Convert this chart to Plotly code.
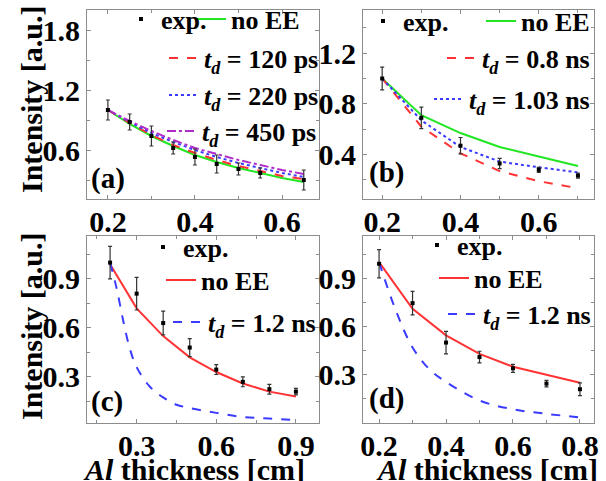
import plotly.graph_objects as go

W, H = 606, 481

# ---------------- data ----------------
# panel (a)
a_x_exp = [0.20, 0.25, 0.30, 0.35, 0.40, 0.45, 0.50, 0.55, 0.65]
a_y_exp = [1.00, 0.88, 0.74, 0.62, 0.53, 0.46, 0.41, 0.37, 0.30]
a_err = [0.10, 0.08, 0.10, 0.06, 0.08, 0.09, 0.06, 0.05, 0.10]
a_x_line = [0.20, 0.25, 0.30, 0.35, 0.40, 0.45, 0.50, 0.55, 0.60, 0.65]
a_noee = [1.00, 0.86, 0.74, 0.64, 0.55, 0.48, 0.42, 0.37, 0.32, 0.28]
a_td120 = [1.00, 0.87, 0.75, 0.65, 0.57, 0.50, 0.44, 0.39, 0.34, 0.31]
a_td220 = [1.00, 0.88, 0.77, 0.68, 0.60, 0.53, 0.47, 0.42, 0.37, 0.33]
a_td450 = [1.00, 0.89, 0.79, 0.70, 0.62, 0.56, 0.50, 0.45, 0.40, 0.36]

# panel (b)
b_x = [0.2, 0.3, 0.4, 0.5, 0.6, 0.7]
b_y_exp = [1.00, 0.69, 0.47, 0.33, 0.28, 0.235]
b_err = [0.09, 0.085, 0.065, 0.04, 0.02, 0.02]
b_noee = [1.00, 0.71, 0.57, 0.46, 0.385, 0.31]
b_td08 = [1.00, 0.62, 0.41, 0.27, 0.19, 0.135]
b_td103 = [1.00, 0.67, 0.46, 0.345, 0.30, 0.26]

# panel (c)
c_x = [0.2, 0.3, 0.4, 0.5, 0.6, 0.7, 0.8, 0.9]
c_y_exp = [1.00, 0.81, 0.63, 0.48, 0.345, 0.27, 0.225, 0.21]
c_err = [0.10, 0.10, 0.073, 0.055, 0.03, 0.03, 0.03, 0.02]
c_noee = [0.99, 0.72, 0.55, 0.42, 0.33, 0.26, 0.21, 0.18]
c_x_td = [0.2, 0.225, 0.25, 0.275, 0.3, 0.35, 0.4, 0.45, 0.5, 0.6, 0.7, 0.8, 0.9]
c_td12 = [1.0, 0.84, 0.64, 0.47, 0.36, 0.24, 0.175, 0.13, 0.11, 0.08, 0.055, 0.045, 0.035]

# panel (d)
d_x = [0.2, 0.3, 0.4, 0.5, 0.6, 0.7, 0.8]
d_y_exp = [0.99, 0.745, 0.50, 0.41, 0.34, 0.245, 0.21]
d_err = [0.088, 0.073, 0.07, 0.036, 0.025, 0.02, 0.04]
d_noee = [1.00, 0.71, 0.545, 0.43, 0.35, 0.30, 0.25]
d_x_td = [0.2, 0.25, 0.3, 0.35, 0.4, 0.5, 0.6, 0.7, 0.8]
d_td12 = [1.0, 0.70, 0.47, 0.335, 0.255, 0.14, 0.085, 0.057, 0.035]

# tick labels
a_xticks = [0.2, 0.4, 0.6]
a_yticks = [0.6, 1.2, 1.8]
b_xticks = [0.2, 0.4, 0.6]
b_yticks = [0.4, 0.8, 1.2]
c_xticks = [0.3, 0.6, 0.9]
c_yticks = [0.3, 0.6, 0.9]
d_xticks = [0.2, 0.4, 0.6, 0.8]
d_yticks = [0.3, 0.6, 0.9]

TD = "<i>t</i><sub><i>d</i></sub>"
GREEN = "#22e622"
RED = "#ff3333"
BLUE = "#3b3bff"
PURPLE = "#b02cc8"
SERIF = "Liberation Serif"


def px(x):
    return x / W


def py(y):
    return 1 - y / H


fig = go.Figure()

legend_specs = {}
leg_counter = [1]


def new_legend(x_end, y_mid):
    leg_counter[0] += 1
    name = f"legend{leg_counter[0]}"
    legend_specs[name] = dict(
        x=px(x_end), y=py(y_mid), xanchor="right", yanchor="middle",
        bgcolor="rgba(0,0,0,0)", borderwidth=0,
        font=dict(family=SERIF, size=26, color="black", weight="bold"),
        itemwidth=30, tracegroupgap=0,
    )
    return name


def exp_trace(x, y, err, xa, ya, leg):
    fig.add_trace(go.Scatter(
        x=x, y=y, mode="markers", name="exp.",
        marker=dict(symbol="square", size=4, color="black"),
        error_y=dict(type="data", array=err, visible=True, color="#333333", thickness=1.2, width=2),
        xaxis=xa, yaxis=ya, legend=leg, showlegend=True,
    ))


def line_trace(x, y, name, color, dash, xa, ya, leg, shape="linear", width=2):
    fig.add_trace(go.Scatter(
        x=x, y=y, mode="lines", name=name,
        line=dict(color=color, dash=dash, width=width, shape=shape),
        xaxis=xa, yaxis=ya, legend=leg, showlegend=True,
    ))


# ---- panel (a) ----
line_trace(a_x_line, a_noee, "no EE", GREEN, "solid", "x", "y", new_legend(305, 19))
line_trace(a_x_line, a_td120, TD + " = 120 ps", RED, "dash", "x", "y", new_legend(324, 58))
line_trace(a_x_line, a_td220, TD + " = 220 ps", BLUE, "dot", "x", "y", new_legend(324, 95))
line_trace(a_x_line, a_td450, TD + " = 450 ps", PURPLE, "dashdot", "x", "y", new_legend(322, 131))
exp_trace(a_x_exp, a_y_exp, a_err, "x", "y", new_legend(212, 19))

# ---- panel (b) ----
line_trace(b_x, b_noee, "no EE", GREEN, "solid", "x2", "y2", new_legend(595, 21))
line_trace(b_x, b_td08, TD + " = 0.8 ns", RED, "dash", "x2", "y2", new_legend(595, 58))
line_trace(b_x, b_td103, TD + " = 1.03 ns", BLUE, "dot", "x2", "y2", new_legend(595, 99))
exp_trace(b_x, b_y_exp, b_err, "x2", "y2", new_legend(454, 21))

# ---- panel (c) ----
line_trace(c_x, c_noee, "no EE", RED, "solid", "x3", "y3", new_legend(275, 280))
line_trace(c_x_td, c_td12, TD + " = 1.2 ns", BLUE, "dash", "x3", "y3", new_legend(321, 322), shape="spline")
exp_trace(c_x, c_y_exp, c_err, "x3", "y3", new_legend(234, 247))

# ---- panel (d) ----
line_trace(d_x, d_noee, "no EE", RED, "solid", "x4", "y4", new_legend(548, 278))
line_trace(d_x_td, d_td12, TD + " = 1.2 ns", BLUE, "dash", "x4", "y4", new_legend(596, 314), shape="spline")
exp_trace(d_x, d_y_exp, d_err, "x4", "y4", new_legend(508, 245))

# ---------------- axes ----------------
tickfont = dict(family=SERIF, size=30, color="black", weight="bold")


def axis(domain, rng, tickvals, minor, anchor, standoff):
    return dict(
        domain=domain, range=rng, tickmode="array", tickvals=tickvals,
        ticktext=[f"{v:.1f}" for v in tickvals], anchor=anchor,
        showline=True, linecolor="#8c8c8c", linewidth=1, mirror="ticks",
        ticks="inside", ticklen=4, tickcolor="#8c8c8c", tickwidth=1,
        minor=dict(dtick=minor, tick0=0, ticks="inside", ticklen=3, tickcolor="#8c8c8c"),
        showgrid=False, zeroline=False, tickfont=tickfont,
        ticklabelstandoff=standoff, automargin=False,
    )


xa_dom_l = [px(87), px(319)]
xa_dom_r = [px(363), px(594)]
ya_dom_t = [py(199), py(10)]
ya_dom_b = [py(423), py(236)]

layout = dict(
    width=W, height=H,
    margin=dict(l=0, r=0, t=0, b=0, autoexpand=False),
    paper_bgcolor="white", plot_bgcolor="white",
    xaxis=axis(xa_dom_l, [0.152, 0.685], a_xticks, 0.1, "y", -4),
    yaxis=axis(ya_dom_t, [0.11, 2.0], a_yticks, 0.3, "x", 0),
    xaxis2=axis(xa_dom_r, [0.151, 0.741], b_xticks, 0.1, "y2", -4),
    yaxis2=axis(ya_dom_t, [0.05, 1.54], b_yticks, 0.2, "x2", 0),
    xaxis3=axis(xa_dom_l, [0.113, 0.987], c_xticks, 0.15, "y3", -4),
    yaxis3=axis(ya_dom_b, [0.018, 1.163], c_yticks, 0.15, "x3", 0),
    xaxis4=axis(xa_dom_r, [0.152, 0.842], d_xticks, 0.1, "y4", -4),
    yaxis4=axis(ya_dom_b, [0.0, 1.1625], d_yticks, 0.15, "x4", 0),
)
layout.update(legend_specs)
fig.update_layout(**layout)

# ---------------- text ----------------
title_font = dict(family=SERIF, size=30, color="black", weight="bold")
label_font = dict(family=SERIF, size=29, color="black", weight="bold")
ann = []
for txt, x, y in [("(a)", 89, 178), ("(b)", 367, 172), ("(c)", 89, 401), ("(d)", 367, 398)]:
    ann.append(dict(text=txt, x=px(x), y=py(y), xref="paper", yref="paper",
                    xanchor="left", yanchor="middle", showarrow=False, font=label_font))
for y in [99, 326]:
    ann.append(dict(text="Intensity [a.u.]", x=px(31), y=py(y), xref="paper", yref="paper",
                    xanchor="center", yanchor="middle", textangle=-90, showarrow=False, font=title_font))
for x in [194, 487]:
    ann.append(dict(text="<i>Al</i> thickness [cm]", x=px(x), y=py(469), xref="paper", yref="paper",
                    xanchor="center", yanchor="middle", showarrow=False, font=title_font))
fig.update_layout(annotations=ann)

fig.write_html("out.html", config={"displayModeBar": False},
               post_script="document.body.style.margin='0px';")
